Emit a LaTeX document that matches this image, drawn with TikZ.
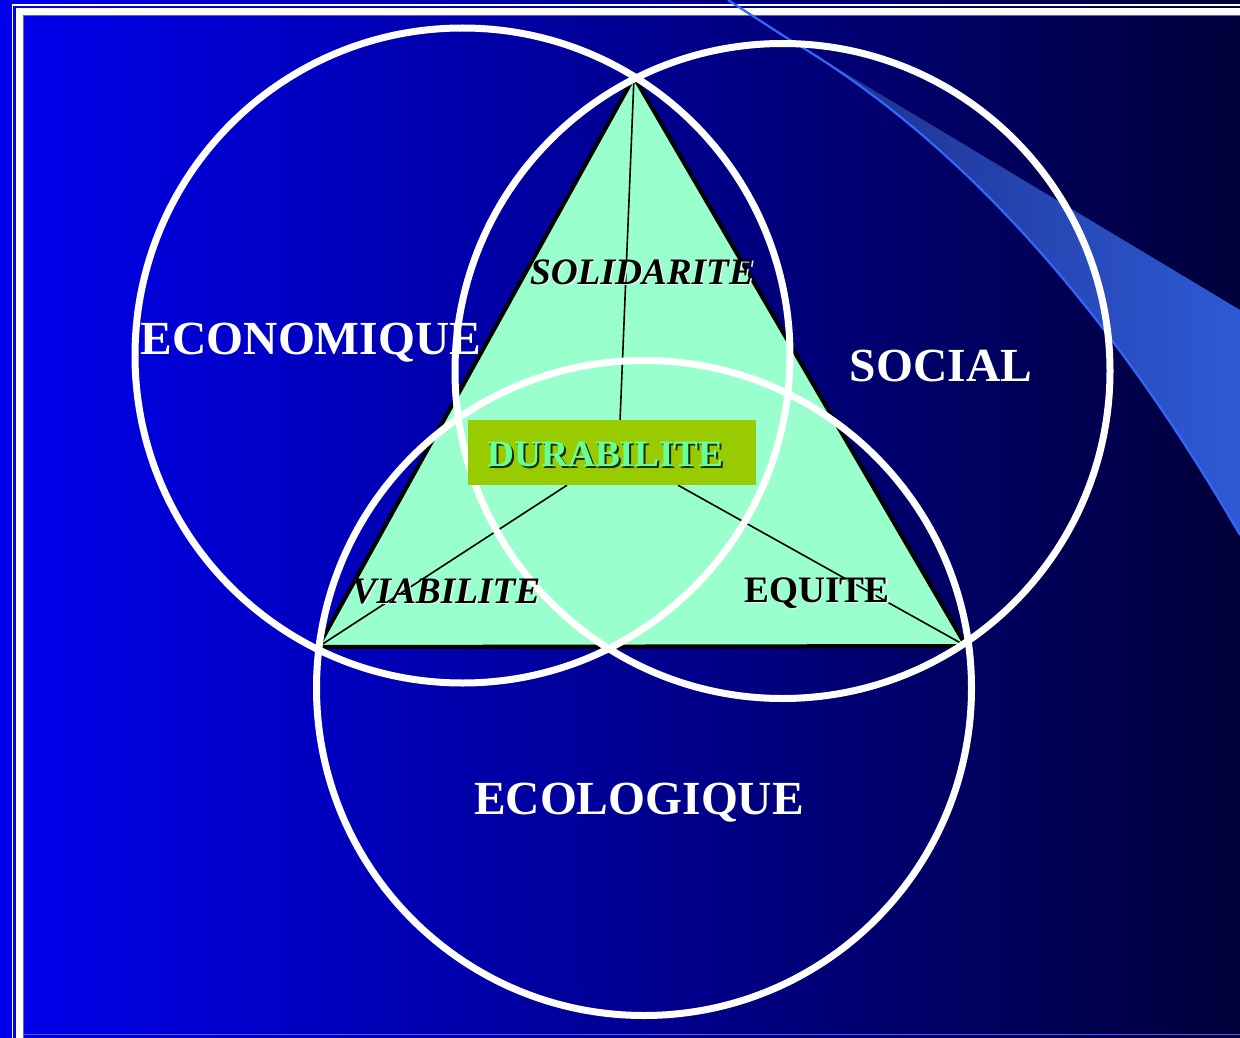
\documentclass[tikz,border=0pt]{standalone}
\usepackage{fontspec}
\setmainfont{Liberation Serif}
\usetikzlibrary{calc}
\definecolor{bgleft}{RGB}{0,0,238}
\definecolor{bgright}{RGB}{0,0,58}
\definecolor{mint}{RGB}{153,255,204}
\definecolor{boxgreen}{RGB}{153,204,0}
\definecolor{durtext}{RGB}{102,255,153}
\definecolor{durshadow}{RGB}{25,45,10}
\definecolor{swooshA}{RGB}{28,45,135}
\definecolor{swooshB}{RGB}{46,90,214}
\definecolor{swline}{RGB}{51,102,255}
\definecolor{lav}{RGB}{90,90,255}
\definecolor{lightsh}{RGB}{225,245,235}
\pgfdeclarelayer{back}
\pgfdeclarelayer{mid}
\pgfsetlayers{back,mid,main}
\begin{document}
\begin{tikzpicture}[x=1pt,y=-1pt,
  ring/.style={circle,draw=white,line width=7pt,minimum size=655pt,inner sep=0pt},
  biglab/.style={text=white,font=\fontsize{47.5}{47.5}\selectfont\bfseries,inner sep=0pt,anchor=base},
  midlab/.style={text=black,font=\fontsize{37.3}{37.3}\selectfont\bfseries,inner sep=0pt,anchor=base},
  midsh/.style={midlab,text=lightsh},
  durlab/.style={text=durtext,font=\fontsize{37.3}{37.3}\selectfont\bfseries,inner sep=0pt,anchor=base},
  dursh/.style={durlab,text=durshadow},
  link/.style={draw=black,line width=1.6pt},
  frame/.style={draw=white}
]
\useasboundingbox (0,0) rectangle (1240,1038);
\begin{pgfonlayer}{back}
  \shade[left color=bgleft,right color=bgright] (0,0) rectangle (1240,1038);
  % frame
  \draw[frame,line width=1.7pt] (12.5,1038) -- (12.5,4.8) -- (1240,4.8);
  \draw[frame,line width=7pt] (19.5,1038) -- (19.5,11.7) -- (1240,11.7);
  \draw[lav,line width=1pt] (23.5,1038) -- (23.5,15.7) -- (1240,15.7);
  \draw[lav,line width=1pt] (23.5,1034.5) -- (1240,1034.5);
  % swoosh
  \fill[left color=swooshA,right color=swooshB] (790,40) -- (1240,310) -- (1240,535)
     .. controls (1110,310) and (960,140) .. (790,40) -- cycle;
  \draw[swline,line width=2.2pt] (728,0) -- (790,40) .. controls (960,140) and (1110,310) .. (1240,535);
  % triangle
  \coordinate (A) at (634,77);
  \coordinate (L) at (318,647);
  \coordinate (R) at (966,646);
  \fill[black] ([shift={(2,2)}]A) -- ([shift={(2,2)}]R) -- ([shift={(2,2)}]L) -- cycle;
  \filldraw[fill=mint,draw=black,line width=4pt] (A) -- (R) -- (L) -- cycle;
\end{pgfonlayer}
% DURABILITE box
\node[fill=boxgreen,minimum width=288pt,minimum height=65pt,inner sep=0pt] (dur) at (612,452.5) {};
\node[dursh] (dursh1) at (607.5,468) {DURABILITE};
\node[durlab] (durt) at (605.5,466) {DURABILITE};
\begin{pgfonlayer}{mid}
  \draw[link] (A) -- ($(dur.north west)!0.528!(dur.north east)$);
  \draw[link] (L) -- ($(dur.south west)!0.344!(dur.south east)$);
  \draw[link] (R) -- ($(dur.south west)!0.729!(dur.south east)$);
  \node[ring] (ceco) at (462.5,355.5) {};
  \node[ring] (csoc) at (782.5,371) {};
  \node[ring] (cecl) at (644,688) {};
\end{pgfonlayer}
% circle labels
\node[biglab] (econ) at (311,354) {ECONOMIQUE};
\node[biglab] (soc) at (941,381) {SOCIAL};
\node[biglab] (ecol) at (639,814) {ECOLOGIQUE};
% side labels
\node[midsh] (solsh) at (643.5,285.5) {\itshape SOLIDARITE};
\node[midlab] (sol) at (642,284) {\itshape SOLIDARITE};
\node[midsh] (viash) at (447.5,604.5) {\itshape VIABILITE};
\node[midlab] (via) at (446,603) {\itshape VIABILITE};
\node[midsh] (eqush) at (818.5,603.5) {EQUITE};
\node[midlab] (equ) at (817,602) {EQUITE};
\end{tikzpicture}
\end{document}
